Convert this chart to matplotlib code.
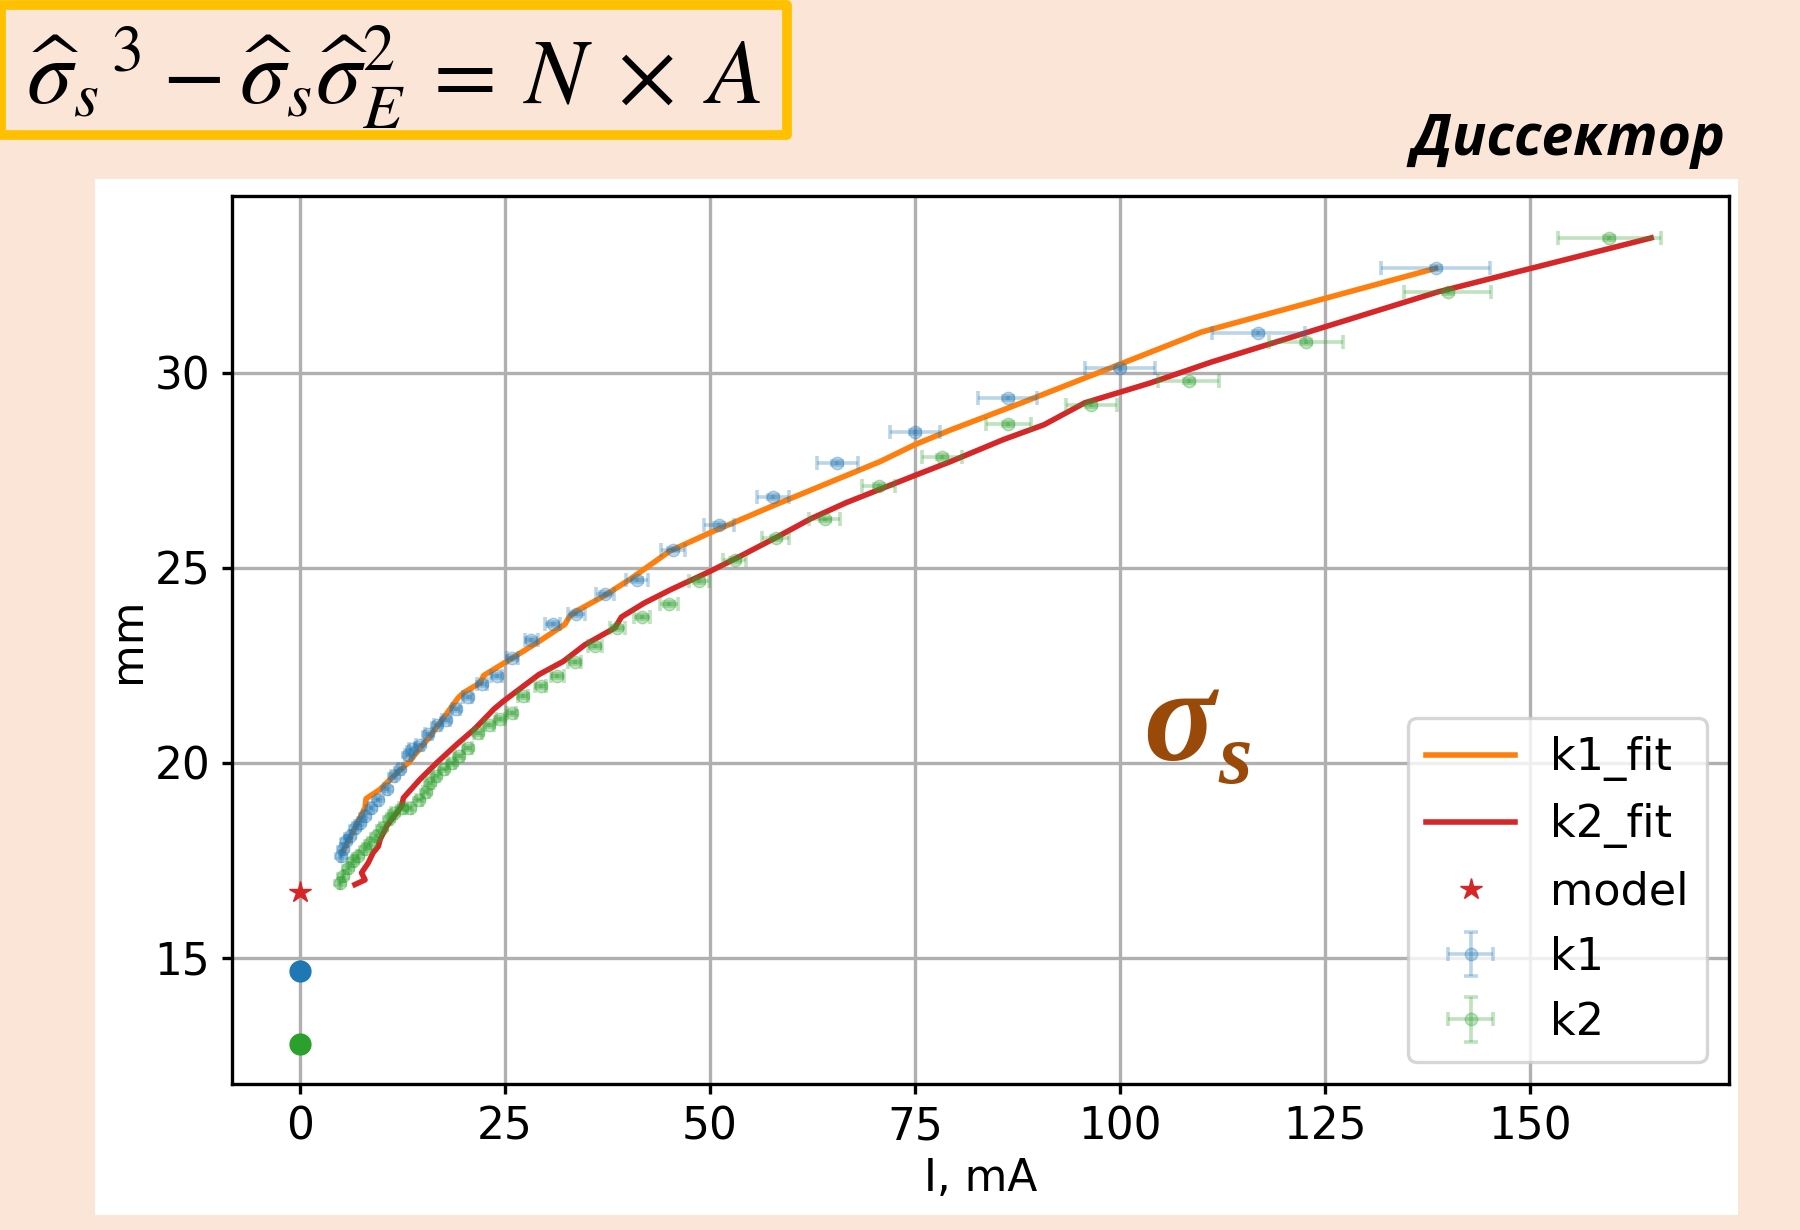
import matplotlib
matplotlib.use('Agg')
from matplotlib import pyplot as plt
from matplotlib.patches import Rectangle

# measured beam size vs current, k1 / k2 with x errors
k1_x = [5.0, 5.2, 5.6, 6.1, 6.7, 7.3, 7.9, 8.7, 9.55, 10.6, 11.4, 12.2, 13.2, 13.7,
        14.6, 15.65, 16.75, 17.8, 19.0, 20.45, 22.15, 24.0, 25.9, 28.2, 30.8, 33.7,
        37.2, 41.1, 45.5, 51.1, 57.7, 65.5, 75.0, 86.3, 100.0, 116.9, 138.5]
k1_y = [17.6, 17.78, 17.99, 18.12, 18.33, 18.46, 18.63, 18.85, 19.06, 19.32, 19.66,
        19.83, 20.21, 20.36, 20.47, 20.73, 20.98, 21.11, 21.38, 21.69, 22.03, 22.22,
        22.69, 23.14, 23.57, 23.81, 24.33, 24.68, 25.47, 26.09, 26.82, 27.69, 28.48,
        29.36, 30.13, 31.03, 32.68]
k1_xerr = [0.15, 0.15, 0.15, 0.15, 0.2, 0.2, 0.2, 0.25, 0.25, 0.3, 0.3, 0.3, 0.35,
           0.35, 0.4, 0.4, 0.45, 0.45, 0.5, 0.55, 0.6, 0.65, 0.7, 0.8, 0.9, 1.0, 1.15,
           1.3, 1.5, 1.8, 2.0, 2.5, 3.0, 3.55, 4.3, 5.7, 6.7]
k1_yerr = 0.05

k2_x = [4.9, 5.3, 5.9, 6.5, 7.1, 7.9, 8.5, 9.3, 10.0, 10.8, 11.4, 12.4, 13.4, 14.55,
        15.4, 15.85, 16.6, 17.5, 18.5, 19.4, 20.5, 21.75, 23.1, 24.4, 25.8, 27.2,
        29.35, 31.4, 33.5, 36.0, 38.7, 41.7, 45.0, 48.7, 53.0, 58.0, 64.0, 70.6,
        78.3, 86.4, 96.5, 108.4, 122.7, 140.0, 159.7]
k2_y = [16.92, 17.09, 17.31, 17.48, 17.6, 17.78, 17.95, 18.12, 18.33, 18.55, 18.72,
        18.85, 18.85, 19.06, 19.25, 19.49, 19.66, 19.83, 20.0, 20.17, 20.38, 20.77,
        20.98, 21.13, 21.28, 21.71, 21.97, 22.22, 22.58, 23.0, 23.46, 23.74, 24.08,
        24.66, 25.2, 25.77, 26.24, 27.11, 27.84, 28.69, 29.18, 29.8, 30.78, 32.07,
        33.45]
k2_xerr = [0.1, 0.1, 0.15, 0.15, 0.15, 0.2, 0.2, 0.2, 0.25, 0.25, 0.25, 0.3, 0.3,
           0.35, 0.35, 0.35, 0.4, 0.4, 0.45, 0.45, 0.5, 0.5, 0.55, 0.55, 0.6, 0.65,
           0.7, 0.75, 0.8, 0.85, 0.9, 1.0, 1.1, 1.2, 1.4, 1.6, 1.9, 2.0, 2.4, 2.7,
           3.1, 3.7, 4.5, 5.3, 6.3]
k2_yerr = 0.05

# fitted curves
k1_fit_x = [5.28, 7.93, 8.05, 9.76, 11.8, 13.4, 14.0, 15.85, 17.07, 19.3, 19.9, 21.95,
            22.4, 25.6, 28.9, 32.3, 32.9, 33.7, 37.0, 40.2, 45.1, 50.0, 58.0, 70.8,
            75.0, 79.4, 88.0, 97.7, 110.0, 138.5]
k1_fit_y = [17.74, 18.85, 19.08, 19.32, 19.74, 20.04, 20.21, 20.68, 21.03, 21.67,
            21.79, 22.05, 22.24, 22.65, 23.08, 23.55, 23.76, 23.89, 24.27, 24.7,
            25.43, 25.9, 26.62, 27.73, 28.16, 28.54, 29.23, 30.03, 31.05, 32.68]
k2_fit_x = [6.7, 7.93, 7.5, 8.33, 8.9, 9.55, 9.76, 10.57, 12.4, 12.6, 14.6, 16.67,
            19.1, 21.3, 23.2, 23.6, 24.8, 29.1, 32.1, 34.76, 38.4, 39.2, 42.0, 45.2,
            50.0, 53.7, 58.0, 62.3, 66.6, 75.0, 79.4, 85.8, 90.75, 95.7, 103.7,
            111.2, 138.7, 164.8]
k2_fit_y = [16.88, 17.0, 17.18, 17.44, 17.69, 17.86, 18.03, 18.38, 18.89, 19.1, 19.57,
            20.0, 20.47, 20.87, 21.28, 21.37, 21.58, 22.26, 22.6, 23.03, 23.46, 23.74,
            24.1, 24.44, 24.91, 25.3, 25.77, 26.26, 26.67, 27.37, 27.73, 28.29, 28.67,
            29.23, 29.74, 30.28, 32.07, 33.46]

# zero-current values
model_y = 16.7
k1_zero = 14.65
k2_zero = 12.8

FS = 31.5
fig = plt.figure(figsize=(18, 12.3), dpi=100, facecolor='#FBE5D6')
W, H = 1800.0, 1230.0

# white plot card
fig.patches.append(Rectangle((95 / W, 1 - 1215 / H), (1738 - 95) / W, (1215 - 179) / H,
                             transform=fig.transFigure, facecolor='white',
                             edgecolor='none', zorder=-5))
# formula box
fig.patches.append(Rectangle((1 / W, 1 - 135 / H), (787 - 1) / W, (135 - 5) / H,
                             transform=fig.transFigure, facecolor='#FBE5D6',
                             edgecolor='#FFC000', linewidth=7, joinstyle='round',
                             zorder=1))
fig.text(394 / W, 1 - 78 / H,
         r'$\widehat{\sigma}_s{}^{\,3} \:-\: \widehat{\sigma}_s\widehat{\sigma}_E^{2} \:=\: N \;\times\; A$',
         math_fontfamily='stix', fontsize=66, ha='center', va='center')
fig.text(1725 / W, 1 - 155 / H, 'Диссектор', fontfamily='Open Sans', fontweight='bold',
         fontstyle='italic', fontsize=41, ha='right', va='baseline')

ax = fig.add_axes([232 / W, 1 - 1084 / H, (1729 - 232) / W, (1084 - 196) / H])
ax.set_axisbelow(True)
ax.grid(True, color='#b0b0b0', linewidth=2.4)

l1, = ax.plot(k1_fit_x, k1_fit_y, color='tab:orange', linewidth=4, label='k1_fit')
l2, = ax.plot(k2_fit_x, k2_fit_y, color='tab:red', linewidth=4, label='k2_fit')
st, = ax.plot([0], [model_y], '*', color='tab:red', markersize=16, label='model')
e1 = ax.errorbar(k1_x, k1_y, xerr=k1_xerr, yerr=k1_yerr, fmt='o', color='tab:blue',
                 alpha=0.3, markersize=9, elinewidth=2.6, capsize=5, capthick=2.6,
                 label='k1')
e2 = ax.errorbar(k2_x, k2_y, xerr=k2_xerr, yerr=k2_yerr, fmt='o', color='tab:green',
                 alpha=0.3, markersize=9, elinewidth=2.6, capsize=5, capthick=2.6,
                 label='k2')
ax.plot([0], [k1_zero], 'o', color='tab:blue', markersize=15)
ax.plot([0], [k2_zero], 'o', color='tab:green', markersize=15)

ax.set_xticks([0, 25, 50, 75, 100, 125, 150])
ax.set_yticks([15, 20, 25, 30])
ax.tick_params(labelsize=FS, length=7, width=2.4, pad=8.5)
for sp in ax.spines.values():
    sp.set_linewidth(2.4)
ax.set_xlabel('I, mA', fontsize=FS, labelpad=6)
ax.set_ylabel('mm', fontsize=FS, labelpad=4)

leg = ax.legend(handles=[l1, l2, st, e1, e2], loc='lower right', fontsize=32)
leg.get_frame().set_linewidth(2.4)

# sigma_s annotation
fig.text(1143 / W, 1 - 760 / H, 'σ', fontfamily='Liberation Serif', fontweight='bold',
         fontstyle='italic', fontsize=96, color='#9A4A08', ha='left', va='baseline')
fig.text(1218 / W, 1 - 783 / H, 's', fontfamily='Liberation Serif', fontweight='bold',
         fontstyle='italic', fontsize=62, color='#9A4A08', ha='left', va='baseline')

fig.savefig('out.png', dpi=100, facecolor=fig.get_facecolor())
